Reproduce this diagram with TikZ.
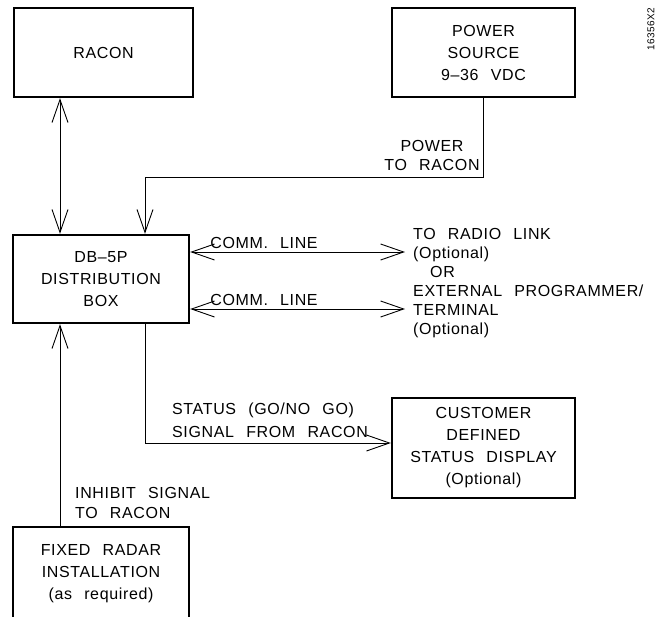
\documentclass[tikz,border=0pt]{standalone}
\usepackage{fontspec}
\setmainfont{Liberation Sans}[LetterSpace=4,WordSpace=2.4]
\usetikzlibrary{arrows.meta, positioning}

\begin{document}
\begin{tikzpicture}[x=1pt, y=-1pt,
  >={Straight Barb[length=23pt,width=16pt]},
  box/.style={draw, line width=2.4pt, align=center, inner sep=0pt,
              font=\fontsize{16}{22}\selectfont},
  link/.style={line width=0.9pt},
  lbl/.style={inner sep=0pt, font=\fontsize{16}{19}\selectfont}]
  \useasboundingbox (0,0) rectangle (658,616);

  % Blocks
  \node[box, minimum width=179pt, minimum height=89pt] (racon) at (103.5,52.5) {RACON};
  \node[box, minimum width=183pt, minimum height=89pt] (power) at (483.5,52.5) {POWER\\SOURCE\\9–36 VDC};
  \node[box, minimum width=176pt, minimum height=88pt] (dbox) at (101,279) {DB–5P\\DISTRIBUTION\\BOX};
  \node[box, minimum width=176pt, minimum height=94pt] (radar) at (101,574) {FIXED RADAR\\INSTALLATION\\(as required)};
  \node[box, minimum width=183pt, minimum height=100pt] (display) at (483.5,448) {CUSTOMER\\DEFINED\\STATUS DISPLAY\\(Optional)};

  % Labels
  \node[lbl, align=center] (pwrlbl) at (432,155) {POWER\\TO RACON};
  \node[lbl] (comm1) at (264,243) {COMM. LINE};
  \node[lbl] (comm2) at (264,300) {COMM. LINE};
  \node[lbl, align=left, anchor=north west] (radiolbl) at (413,228)
    {TO RADIO LINK\\(Optional)\\\hspace*{17pt}OR\\EXTERNAL PROGRAMMER/\\TERMINAL\\(Optional)};
  \node[lbl, align=left, anchor=west, font=\fontsize{16}{23}\selectfont] (statlbl) at (172,420.5)
    {STATUS (GO/NO GO)\\SIGNAL FROM RACON};
  \node[lbl, align=left, anchor=west, font=\fontsize{16}{20}\selectfont] (inhlbl) at (75,502.5)
    {INHIBIT SIGNAL\\TO RACON};
  \node[rotate=90, inner sep=0pt, font=\fontsize{10}{12}\selectfont] (dwgno) at (651,29) {16356X2};

  % Connectors
  \coordinate (tapL) at (60,0);
  \coordinate (bend) at (145,177);
  \coordinate (radio) at (405,252);
  \coordinate (term) at (405,309);
  \coordinate (stat) at (145,443);

  \draw[link, <->] (racon.south -| tapL) -- (dbox.north -| tapL);
  \draw[link, ->] (power.south) |- (bend) -- (dbox.north -| bend);
  \draw[link, <->] (radio -| dbox.east) -- (radio);
  \draw[link, <->] (term -| dbox.east) -- (term);
  \draw[link, ->] (dbox.south -| stat) -- (stat) -- (stat -| display.west);
  \draw[link, ->] (radar.north -| tapL) -- (dbox.south -| tapL);
\end{tikzpicture}
\end{document}
